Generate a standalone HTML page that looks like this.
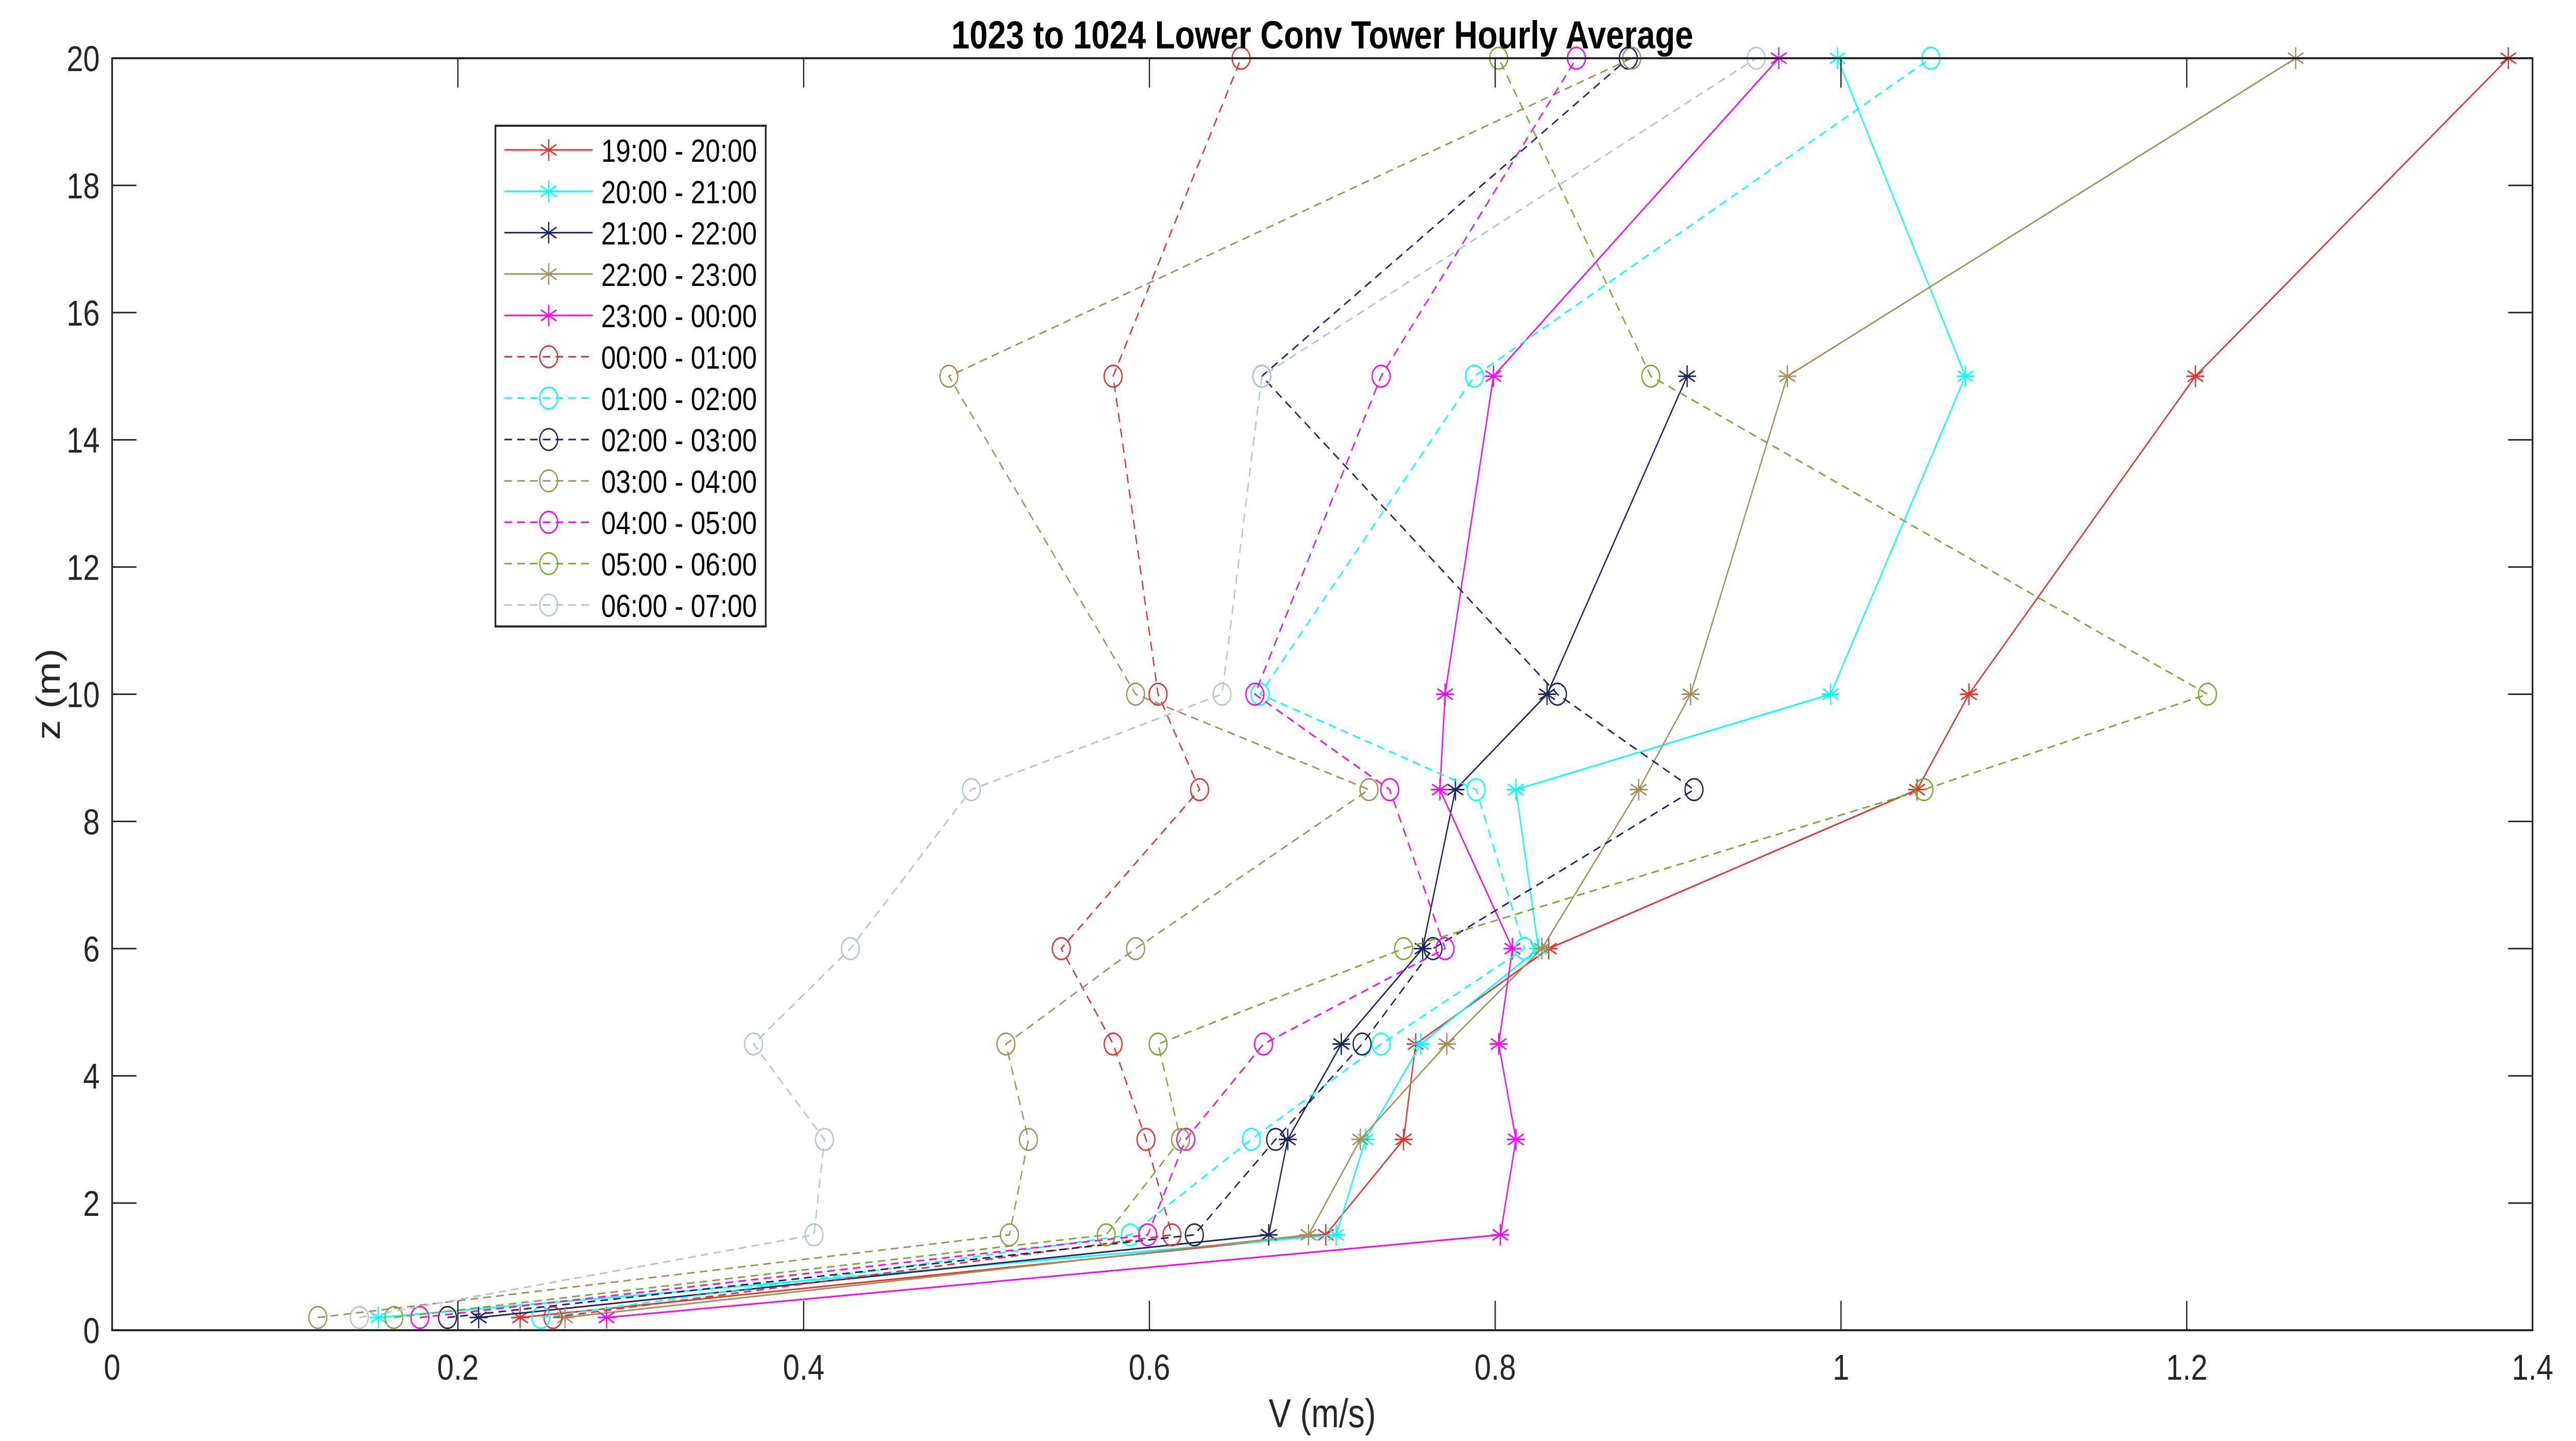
<!DOCTYPE html>
<html><head><meta charset="utf-8"><style>
html,body{margin:0;padding:0;background:#fff;width:100%;height:100%;overflow:hidden;}
svg{display:block;position:absolute;left:0;top:0;width:100%;height:100%;font-family:"Liberation Sans",Arial,sans-serif;}
</style></head><body>
<svg id="chart" viewBox="0 0 6042 2797" preserveAspectRatio="none" xmlns="http://www.w3.org/2000/svg">
<rect width="6042" height="2797" fill="#fff"/>
<g id="marks"></g>
<g id="axes"></g>
<g id="legend"></g>
</svg>
<script>
const heights = [0.2, 1.5, 3, 4.5, 6, 8.5, 10, 15, 20];
const seriesNames = ["19:00 - 20:00","20:00 - 21:00","21:00 - 22:00","22:00 - 23:00","23:00 - 00:00","00:00 - 01:00","01:00 - 02:00","02:00 - 03:00","03:00 - 04:00","04:00 - 05:00","05:00 - 06:00","06:00 - 07:00"];
const v1920 = [0.236,0.702,0.747,0.754,0.831,1.044,1.074,1.205,1.386];
const v2021 = [0.154,0.708,0.725,0.757,0.825,0.812,0.994,1.072,0.998];
const v2122 = [0.212,0.669,0.680,0.711,0.758,0.777,0.830,0.911,null];
const v2223 = [0.262,0.692,0.722,0.772,0.827,0.883,0.913,0.969,1.263];
const v2300 = [0.286,0.803,0.812,0.802,0.810,0.768,0.771,0.799,0.964];
const v0001 = [0.255,0.613,0.598,0.579,0.549,0.629,0.605,0.579,0.653];
const v0102 = [0.248,0.589,0.659,0.734,0.817,0.789,0.664,0.788,1.052];
const v0203 = [0.194,0.626,0.673,0.723,0.764,0.915,0.836,0.665,0.877];
const v0304 = [0.119,0.519,0.530,0.517,0.592,0.727,0.592,0.484,0.879];
const v0405 = [0.178,0.599,0.621,0.666,0.771,0.739,0.661,0.734,0.847];
const v0506 = [0.163,0.575,0.618,0.605,0.747,1.048,1.212,0.890,0.802];
const v0607 = [0.143,0.406,0.412,0.371,0.427,0.497,0.642,0.665,0.951];
const xTicks = [0,0.2,0.4,0.6,0.8,1,1.2,1.4];
const xTickLabels = ["0","0.2","0.4","0.6","0.8","1","1.2","1.4"];
const yTicks = [0,2,4,6,8,10,12,14,16,18,20];
const yTickLabels = ["0","2","4","6","8","10","12","14","16","18","20"];

const allValues = [v1920,v2021,v2122,v2223,v2300,v0001,v0102,v0203,v0304,v0405,v0506,v0607];
const colors = ["#e8312e","#00ffff","#1a2466","#a68f5a","#ff00ff","#e8312e","#00ffff","#1a2466","#a68f5a","#ff00ff","#77ac30","#b0c4de"];
const L=263,R=5940,T=113,B=2582;
const xs = v => L + (v-0)/(1.4-0)*(R-L);
const ys = z => B - (z-0)/(20-0)*(B-T);
const NS="http://www.w3.org/2000/svg";
function mk(tag, attrs, parent){const e=document.createElementNS(NS,tag);for(const k in attrs)e.setAttribute(k,attrs[k]);parent.appendChild(e);return e;}
function star(g,x,y,c){
  const r=21, d=r*0.5, h=r*0.87;
  const p=`M${x},${y-r}L${x},${y+r}M${x-h},${y-d}L${x+h},${y+d}M${x-h},${y+d}L${x+h},${y-d}M${x-r},${y}L${x+r},${y}`;
  const e=mk('path',{d:p,stroke:c,'stroke-width':3,fill:'none'},g);
  
  
}
function circ(g,x,y,c){
  const e=mk('circle',{cx:x,cy:y,r:21,stroke:c,'stroke-width':3,fill:'none'},g);
  
  
}
const marks=document.getElementById('marks');
allValues.forEach((vals,i)=>{
  const g=mk('g',{},marks);
  
  
  const pts=[];
  vals.forEach((v,j)=>{if(v!==null)pts.push([xs(v),ys(heights[j])]);});
  const line=mk('polyline',{points:pts.map(p=>p.join(',')).join(' '),fill:'none',stroke:colors[i],'stroke-width':3,'stroke-dasharray':i>=5?'18,12':'none'},g);
  
  
  pts.forEach(p=>{ if(i<5) star(g,p[0],p[1],colors[i]); else circ(g,p[0],p[1],colors[i]); });
});
const axes=document.getElementById('axes');
const box=mk('rect',{x:L,y:T,width:R-L,height:B-T,fill:'none',stroke:'#262626','stroke-width':4},axes);


xTicks.forEach((t,i)=>{
  const x=xs(t);
  mk('line',{x1:x,y1:B,x2:x,y2:B-57,stroke:'#262626','stroke-width':3},axes);
  mk('line',{x1:x,y1:T,x2:x,y2:T+57,stroke:'#262626','stroke-width':3},axes);
  const tx=mk('text',{x:x,y:2678,'font-size':70,'text-anchor':'middle',fill:'#262626'},axes);
  tx.textContent=xTickLabels[i];
  
  
});
yTicks.forEach((t,i)=>{
  const y=ys(t);
  mk('line',{x1:L,y1:y,x2:L+57,y2:y,stroke:'#262626','stroke-width':3},axes);
  mk('line',{x1:R,y1:y,x2:R-57,y2:y,stroke:'#262626','stroke-width':3},axes);
  const tx=mk('text',{x:234,y:y+25,'font-size':70,'text-anchor':'end',fill:'#262626'},axes);
  tx.textContent=yTickLabels[i];
  
  
});
const xl=mk('text',{x:(L+R)/2,y:2770,'font-size':78,'text-anchor':'middle',fill:'#262626'},axes);
xl.textContent='V (m/s)';


const yl=mk('text',{x:0,y:0,'font-size':78,'text-anchor':'middle',fill:'#262626',transform:`translate(140,${(T+B)/2}) rotate(-90)`},axes);
yl.textContent='z (m)';


const tl=mk('text',{x:(L+R)/2,y:94,'font-size':76,'font-weight':'bold','text-anchor':'middle',fill:'#000',textLength:1740,lengthAdjust:'spacingAndGlyphs'},axes);
tl.textContent='1023 to 1024 Lower Conv Tower Hourly Average';



const lg=document.getElementById('legend');


const lb=mk('rect',{x:1162,y:244,width:634,height:972,fill:'#fff',stroke:'#262626','stroke-width':4},lg);


seriesNames.forEach((n,i)=>{
  const y=291+i*80.3;
  const g=mk('g',{},lg);
  
  
  mk('line',{x1:1183,y1:y,x2:1390,y2:y,stroke:colors[i],'stroke-width':3,'stroke-dasharray':i>=5?'18,12':'none'},g);
  if(i<5) star(g,1287,y,colors[i]); else circ(g,1287,y,colors[i]);
  const t=mk('text',{x:1410,y:y+23,'font-size':62,fill:'#000'},g);
  t.textContent=n;
  
  
});
</script>
</body></html>
